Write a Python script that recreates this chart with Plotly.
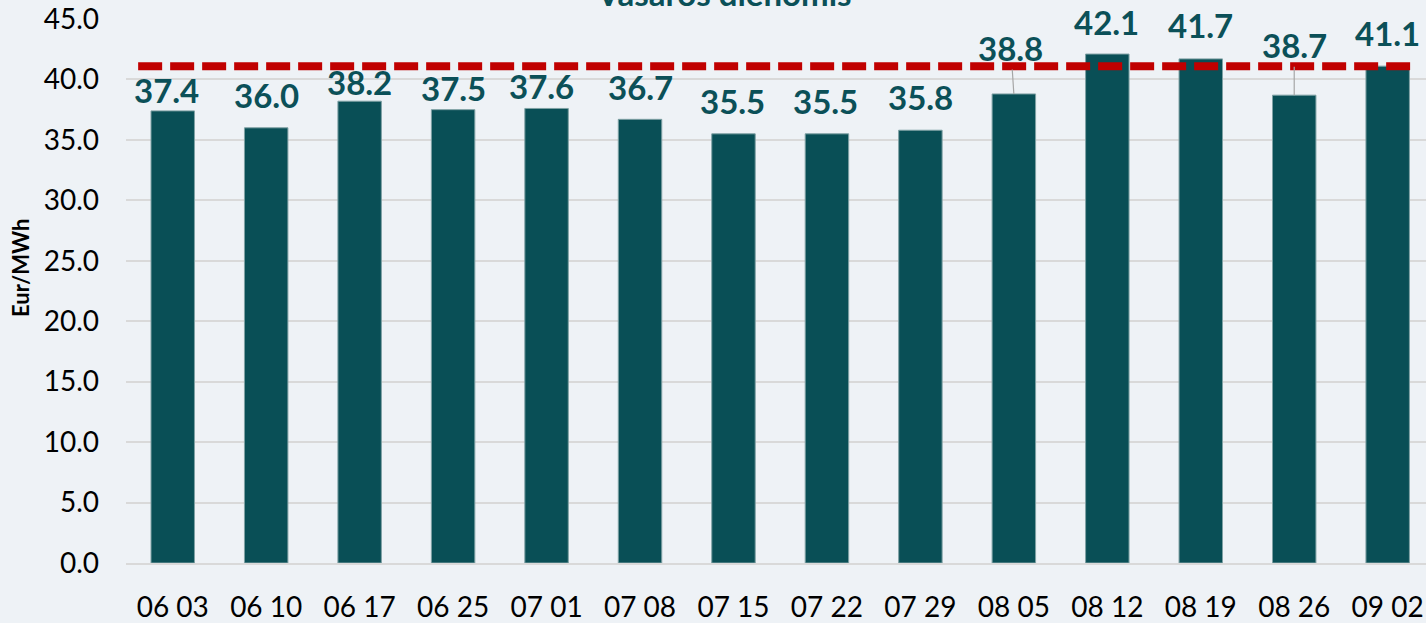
import plotly.graph_objects as go

weeks = ["06 03", "06 10", "06 17", "06 25", "07 01", "07 08", "07 15",
         "07 22", "07 29", "08 05", "08 12", "08 19", "08 26", "09 02"]
prices = [37.4, 36.0, 38.2, 37.5, 37.6, 36.7, 35.5,
          35.5, 35.8, 38.8, 42.1, 41.7, 38.7, 41.1]
reference_price = 41.1
title_text = "Vasaros dienomis"
y_title = "Eur/MWh"

# label placement tweaks (pixels), as arranged in the original chart
label_dy = [21, 33, 19.5, 21.5, 22, 32, 33, 33, 33, 46, 32.5, 34, 50, 33]
label_dx = [-6, 0, 0, 0, -5.5, 0, -1, -1, 0, -3, -1, 0, 0, 0]
leader = [False] * 9 + [True, False, False, True, False]

BAR = "#094f56"
LABEL = "#0b5058"
RED = "#c00000"
BG = "#eef2f6"

fig = go.Figure()
fig.add_trace(go.Bar(
    x=weeks, y=prices,
    marker=dict(color=BAR, line=dict(color="#7fa1a4", width=1)),
    showlegend=False, hoverinfo="x+y",
))

annotations = []
for w, v, dy, dx, ld in zip(weeks, prices, label_dy, label_dx, leader):
    if ld:
        annotations.append(dict(
            x=w, y=v, xref="x", yref="y", text=f"<b>{v:.1f}</b>",
            showarrow=True, arrowhead=0, arrowwidth=1.2, arrowcolor="#a6a6a6",
            ax=dx, ay=-dy, standoff=0,
            font=dict(family="Lato", size=33, color=LABEL),
        ))
    else:
        annotations.append(dict(
            x=w, y=v, xref="x", yref="y", text=f"<b>{v:.1f}</b>", showarrow=False,
            yanchor="middle", yshift=dy, xshift=dx,
            font=dict(family="Lato", size=33, color=LABEL),
        ))

annotations.append(dict(
    x=0.46, y=1, xref="paper", yref="paper", text=f"<b>{title_text}</b>",
    showarrow=False, yanchor="bottom", yshift=4,
    font=dict(family="Lato", size=33, color=LABEL),
))
annotations.append(dict(
    x=0, y=0.5, xref="paper", yref="paper", text=f"<b>{y_title}</b>",
    showarrow=False, textangle=-90, xanchor="center", yanchor="middle",
    xshift=-106, yshift=23,
    font=dict(family="Lato", size=22, color="#000000"),
))

x_end = len(weeks) - 1 + 0.41
fig.add_shape(type="line", xref="x", yref="y",
              x0=-0.37, x1=len(weeks) - 1 + 0.24,
              y0=reference_price, y1=reference_price,
              line=dict(color=RED, width=8, dash="24px,8px"))
fig.add_trace(go.Scatter(
    x=[x_end - 0.02], y=[reference_price - 0.55], mode="markers",
    marker=dict(symbol="triangle-down", size=15, color=RED, angle=-25),
    cliponaxis=False, showlegend=False, hoverinfo="skip",
))

fig.update_layout(
    width=1426, height=623,
    margin=dict(l=126, r=0, t=19, b=56),
    paper_bgcolor=BG, plot_bgcolor=BG,
    bargap=0.535,
    font=dict(family="Lato", color="#000000"),
    annotations=annotations,
    xaxis=dict(
        type="category", range=[-0.5, x_end],
        showgrid=False, showline=True, linecolor="#d9d9d9", linewidth=2,
        tickfont=dict(size=28), ticks="", ticklabelstandoff=18,
    ),
    yaxis=dict(
        range=[0, 45], dtick=5, tickformat=".1f",
        showgrid=True, gridcolor="#d9d9d9", gridwidth=1.5,
        zeroline=False, showline=False,
        tickfont=dict(size=28), ticks="", ticklabelstandoff=26,
    ),
)

fig.write_html(
    "out.html",
    config={"displayModeBar": False},
    post_script="document.body.style.margin='0';document.body.style.overflow='hidden';",
)
